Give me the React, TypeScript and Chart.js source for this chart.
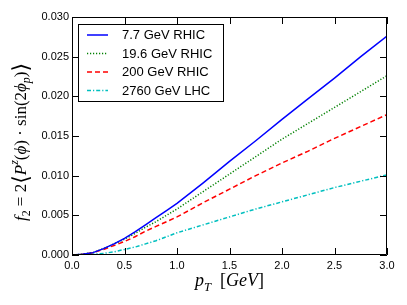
import { useEffect, useRef } from "react";
import { Chart, registerables } from "chart.js";
Chart.register(...registerables);

const pT = [0, 0.1, 0.2, 0.3, 0.4, 0.5, 0.6, 0.7, 0.8, 0.9, 1.0, 1.25, 1.5, 1.75, 2.0, 2.25, 2.5, 2.75, 3.0];
const rhic7p7 = [0, 0.0001, 0.0003, 0.0008, 0.0014, 0.0021, 0.0029, 0.0038, 0.0047, 0.0056, 0.0065, 0.0091, 0.0118, 0.0144, 0.0171, 0.0197, 0.0223, 0.025, 0.0276];
const rhic19p6 = [0, 0.0001, 0.0003, 0.0008, 0.0014, 0.002, 0.0027, 0.0035, 0.0042, 0.005, 0.0058, 0.008, 0.0102, 0.0124, 0.0146, 0.0166, 0.0186, 0.0206, 0.0226];
const rhic200 = [0, 0.0001, 0.0003, 0.0007, 0.0012, 0.0017, 0.0023, 0.003, 0.0036, 0.0042, 0.0048, 0.0066, 0.0083, 0.01, 0.0116, 0.0131, 0.0147, 0.0162, 0.0177];
const lhc2760 = [0, 0.00003, 0.0001, 0.0002, 0.0004, 0.0007, 0.001, 0.0014, 0.0018, 0.0023, 0.0028, 0.0038, 0.0048, 0.0058, 0.0067, 0.0076, 0.0085, 0.0093, 0.0101];
const seriesLabels = ["7.7 GeV RHIC", "19.6 GeV RHIC", "200 GeV RHIC", "2760 GeV LHC"];
const xTicks = [0, 0.5, 1.0, 1.5, 2.0, 2.5, 3.0];
const yTicks = [0, 0.005, 0.01, 0.015, 0.02, 0.025, 0.03];

const colors = ["#0000ff", "#008000", "#ff0000", "#00bfbf"];
const dashes: number[][] = [[], [1.2, 1.8], [5, 3], [4, 2, 1.2, 2]];

const frameTicks = {
  id: "frameTicks",
  afterDatasetsDraw(chart: any) {
    const { ctx, chartArea: a, scales } = chart;
    ctx.save();
    ctx.strokeStyle = "#000";
    ctx.lineWidth = 1;
    ctx.beginPath();
    ctx.rect(a.left + 0.5, a.top + 0.5, a.right - a.left - 1, a.bottom - a.top - 1);
    ctx.stroke();
    const L = 7;
    ctx.beginPath();
    for (const v of xTicks) {
      const x = Math.round(scales.x.getPixelForValue(v)) + 0.5;
      ctx.moveTo(x, a.bottom);
      ctx.lineTo(x, a.bottom - L);
      ctx.moveTo(x, a.top);
      ctx.lineTo(x, a.top + L);
    }
    for (const v of yTicks) {
      const y = Math.round(scales.y.getPixelForValue(v)) + 0.5;
      ctx.moveTo(a.left, y);
      ctx.lineTo(a.left + L, y);
      ctx.moveTo(a.right, y);
      ctx.lineTo(a.right - L, y);
    }
    ctx.stroke();

    // legend
    const bx = 78, by = 24, bw = 145, bh = 77;
    ctx.fillStyle = "#fff";
    ctx.fillRect(bx, by, bw, bh);
    ctx.strokeStyle = "#000";
    ctx.strokeRect(bx + 0.5, by + 0.5, bw, bh);
    const rows = [35, 53.5, 72, 90.5];
    ctx.font = "13px 'Liberation Sans', Arial, sans-serif";
    ctx.textBaseline = "middle";
    ctx.textAlign = "left";
    chart.data.datasets.forEach((ds: any, i: number) => {
      ctx.save();
      ctx.strokeStyle = ds.borderColor;
      ctx.lineWidth = ds.borderWidth;
      ctx.setLineDash(ds.borderDash || []);
      ctx.beginPath();
      ctx.moveTo(87, rows[i]);
      ctx.lineTo(108, rows[i]);
      ctx.stroke();
      ctx.restore();
      ctx.fillStyle = "#000";
      ctx.fillText(ds.label, 122, rows[i] + 0.5);
    });
    ctx.restore();
  },
  afterDraw(chart: any) {
    const { ctx } = chart;
    ctx.save();
    ctx.fillStyle = "#000";
    ctx.textBaseline = "alphabetic";
    ctx.textAlign = "left";
    const fam = "'Liberation Serif', 'DejaVu Serif', serif";
    const bfam = "'DejaVu Sans', 'DejaVu Serif', sans-serif";
    const S = 17;
    type P = [string, boolean, number, number, boolean?];
    const pieces: P[] = [
      ["f", true, 1, 0],
      ["2", false, 0.7, 0.25],
      [" = 2", false, 1, 0],
      ["\u27E8", false, 1.3, 0.12, true],
      ["P", true, 1, 0],
      ["z", true, 0.7, -0.45],
      ["(", false, 1, 0],
      ["\u03D5", true, 1, 0],
      [")", false, 1, 0],
      [" \u00B7 ", false, 1, 0],
      ["sin", false, 1, 0],
      ["(2", false, 1, 0],
      ["\u03D5", true, 1, 0],
      ["p", true, 0.7, 0.25],
      [")", false, 1, 0],
      ["\u27E9", false, 1.3, 0.12, true],
    ];
    const fontOf = (p: P) =>
      `${p[1] ? "italic " : ""}${p[4] ? "200 " : ""}${(S * p[2]).toFixed(1)}px ${p[4] ? bfam : fam}`;
    let total = 0;
    for (const p of pieces) {
      ctx.font = fontOf(p);
      total += ctx.measureText(p[0]).width;
    }
    ctx.translate(26, 142);
    ctx.rotate(-Math.PI / 2);
    let x = -total / 2;
    for (const p of pieces) {
      ctx.font = fontOf(p);
      ctx.fillText(p[0], x, p[3] * S);
      x += ctx.measureText(p[0]).width;
    }
    ctx.restore();

    // x title
    ctx.save();
    ctx.fillStyle = "#000";
    const S2 = 18;
    const xp: P[] = [
      ["p", true, 1, 0],
      ["T", true, 0.7, 0.25],
      ["  [", false, 1, 0],
      ["GeV", true, 1, 0],
      ["]", false, 1, 0],
    ];
    const f2 = (p: P) => `${p[1] ? "italic " : ""}${(S2 * p[2]).toFixed(1)}px ${fam}`;
    let t2 = 0;
    for (const p of xp) {
      ctx.font = f2(p);
      t2 += ctx.measureText(p[0]).width;
    }
    let x2 = (chart.chartArea.left + chart.chartArea.right) / 2 - t2 / 2;
    for (const p of xp) {
      ctx.font = f2(p);
      ctx.fillText(p[0], x2, 286 + p[3] * S2);
      x2 += ctx.measureText(p[0]).width;
    }
    ctx.restore();
  },
};

export default function App() {
  const ref = useRef<HTMLCanvasElement | null>(null);
  useEffect(() => {
    if (!ref.current) return;
    const series = [rhic7p7, rhic19p6, rhic200, lhc2760];
    const chart = new Chart(ref.current, {
      type: "line",
      data: {
        datasets: series.map((vals, i) => ({
          label: seriesLabels[i],
          data: pT.map((x, j) => ({ x, y: vals[j] })),
          borderColor: colors[i],
          backgroundColor: colors[i],
          borderWidth: 1.5,
          borderDash: dashes[i],
          pointRadius: 0,
          tension: 0,
          fill: false,
        })),
      },
      options: {
        animation: false,
        responsive: false,
        devicePixelRatio: 1,
        layout: { padding: { left: 0, right: 20, top: 17, bottom: 0 } },
        plugins: { legend: { display: false }, tooltip: { enabled: false } },
        scales: {
          x: {
            type: "linear",
            min: 0,
            max: 3,
            grid: { display: false, drawTicks: false },
            border: { display: false },
            afterBuildTicks: (s: any) => {
              s.ticks = xTicks.map((v) => ({ value: v }));
            },
            afterFit: (s: any) => {
              s.height = 50;
            },
            ticks: {
              padding: 4,
              color: "#000",
              font: { family: "'Liberation Sans', Arial, sans-serif", size: 11 },
              callback: (v: any) => Number(v).toFixed(1),
              maxRotation: 0,
            },
          },
          y: {
            type: "linear",
            min: 0,
            max: 0.03,
            grid: { display: false, drawTicks: false },
            border: { display: false },
            afterBuildTicks: (s: any) => {
              s.ticks = yTicks.map((v) => ({ value: v }));
            },
            afterFit: (s: any) => {
              s.width = 72;
            },
            ticks: {
              padding: 3,
              color: "#000",
              font: { family: "'Liberation Sans', Arial, sans-serif", size: 11 },
              callback: (v: any) => Number(v).toFixed(3),
            },
          },
        },
      },
      plugins: [frameTicks],
    } as any);
    return () => chart.destroy();
  }, []);
  return (
    <div style={{ position: "fixed", left: 0, top: 0, width: 407, height: 305, background: "#fff" }}>
      <canvas ref={ref} width={407} height={305} style={{ width: 407, height: 305 }} />
    </div>
  );
}
